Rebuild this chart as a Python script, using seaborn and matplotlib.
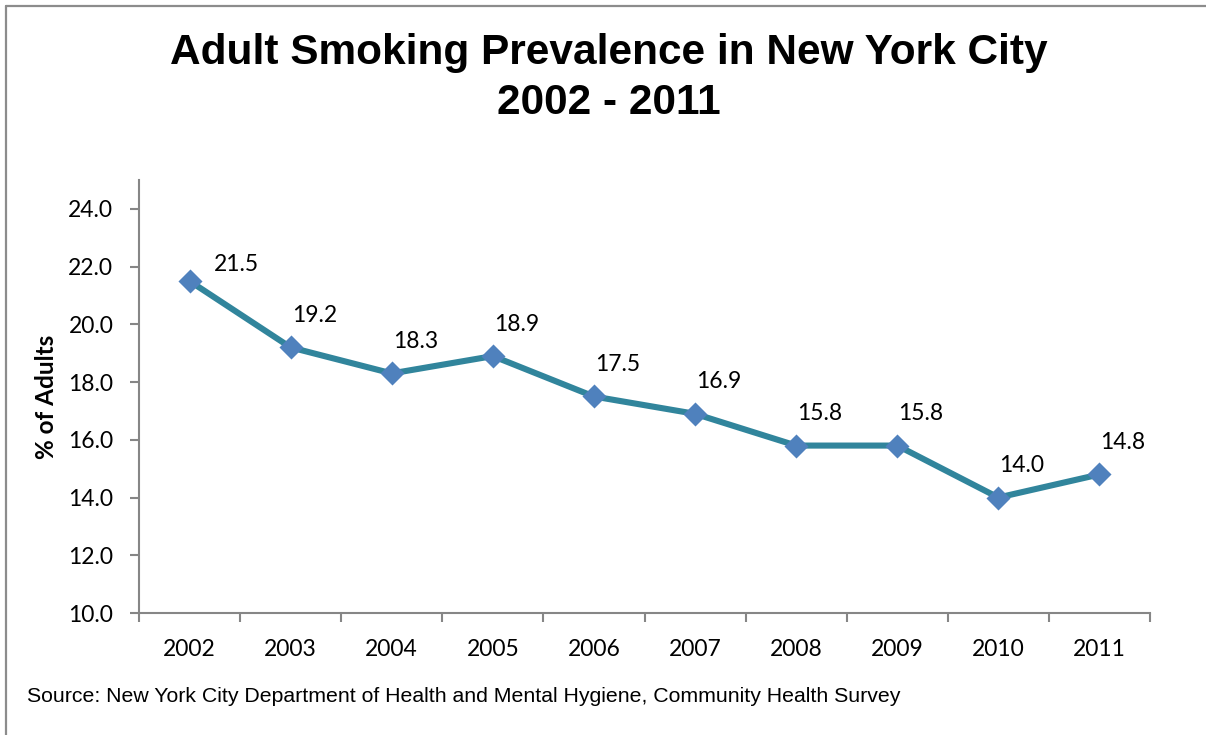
import matplotlib
matplotlib.use("Agg")
import matplotlib.pyplot as plt
import seaborn as sns
import pandas as pd
import numpy as np
from matplotlib.lines import Line2D

years = ["2002", "2003", "2004", "2005", "2006", "2007", "2008", "2009", "2010", "2011"]
prevalence = [21.5, 19.2, 18.3, 18.9, 17.5, 16.9, 15.8, 15.8, 14.0, 14.8]
y_ticks = [10.0, 12.0, 14.0, 16.0, 18.0, 20.0, 22.0, 24.0]
title_text = "Adult Smoking Prevalence in New York City\n2002 - 2011"
y_label = "% of Adults"
source_text = "Source: New York City Department of Health and Mental Hygiene, Community Health Survey"

df = pd.DataFrame({"year": years, "pct": prevalence})

sns.set_theme(style="white")
plt.rcParams["font.family"] = ["Lato", "DejaVu Sans"]
plt.rcParams["text.color"] = "black"
plt.rcParams["axes.labelcolor"] = "black"
plt.rcParams["xtick.color"] = "#868686"
plt.rcParams["ytick.color"] = "#868686"
plt.rcParams["xtick.labelcolor"] = "black"
plt.rcParams["ytick.labelcolor"] = "black"

fig = plt.figure(figsize=(12.06, 7.35), dpi=100)
ax = fig.add_axes([139/1206, 1-613/735, (1150-139)/1206, (613-180)/735])

sns.lineplot(data=df, x="year", y="pct", ax=ax, color="#31859C", linewidth=4.4, sort=False, zorder=2)
sns.scatterplot(data=df, x="year", y="pct", ax=ax, marker="D", s=150, color="#4F81BD",
                edgecolor="#4F81BD", linewidth=0, zorder=3)

ax.set_xlim(-0.5, len(years) - 0.5)
ax.set_ylim(10, 25)
ax.set_yticks(y_ticks)
ax.set_yticklabels([f"{v:.1f}" for v in y_ticks], fontsize=16.5)
ax.set_xticks(range(len(years)))
ax.set_xticklabels(years, fontsize=16.5)
ax.set_xticks(np.arange(-0.5, len(years), 1.0), minor=True)
ax.tick_params(axis="x", which="major", bottom=True, length=0, pad=19)
ax.tick_params(axis="x", which="minor", bottom=True, length=6.5, width=1.5, direction="out")
ax.tick_params(axis="y", which="major", left=True, length=6.5, width=1.5, direction="out", pad=12)

for s in ["top", "right"]:
    ax.spines[s].set_visible(False)
for s in ["left", "bottom"]:
    ax.spines[s].set_color("#868686")
    ax.spines[s].set_linewidth(1.5)

ax.set_xlabel("")
ax.set_ylabel(y_label, fontsize=17.5, fontweight="bold", color="black")
ax.yaxis.set_label_coords(-0.080, 0.5)
ax.grid(False)

for i, (yr, v) in enumerate(zip(years, prevalence)):
    dx, dy = (34, 12) if i == 0 else (17, 23)
    ax.annotate(f"{v:.1f}", xy=(i, v), xytext=(dx, dy), textcoords="offset points",
                ha="center", va="center", fontsize=16.5, color="black")

fig.text(609/1206, 1-78/735, title_text, ha="center", va="center", fontsize=30.5,
         fontweight="bold", family=["Liberation Sans", "DejaVu Sans"], linespacing=1.3,
         color="black")
fig.text(27/1206, 1-697/735, source_text, ha="left", va="center", fontsize=15.3,
         family=["Liberation Sans", "DejaVu Sans"], color="black")

fig.add_artist(Line2D([6/1206, 6/1206], [0, 1-6/735], transform=fig.transFigure, color="#8c8c8c", linewidth=1.6))
fig.add_artist(Line2D([6/1206, 1], [1-6/735, 1-6/735], transform=fig.transFigure, color="#8c8c8c", linewidth=1.6))

fig.savefig("out.png", dpi=100)
